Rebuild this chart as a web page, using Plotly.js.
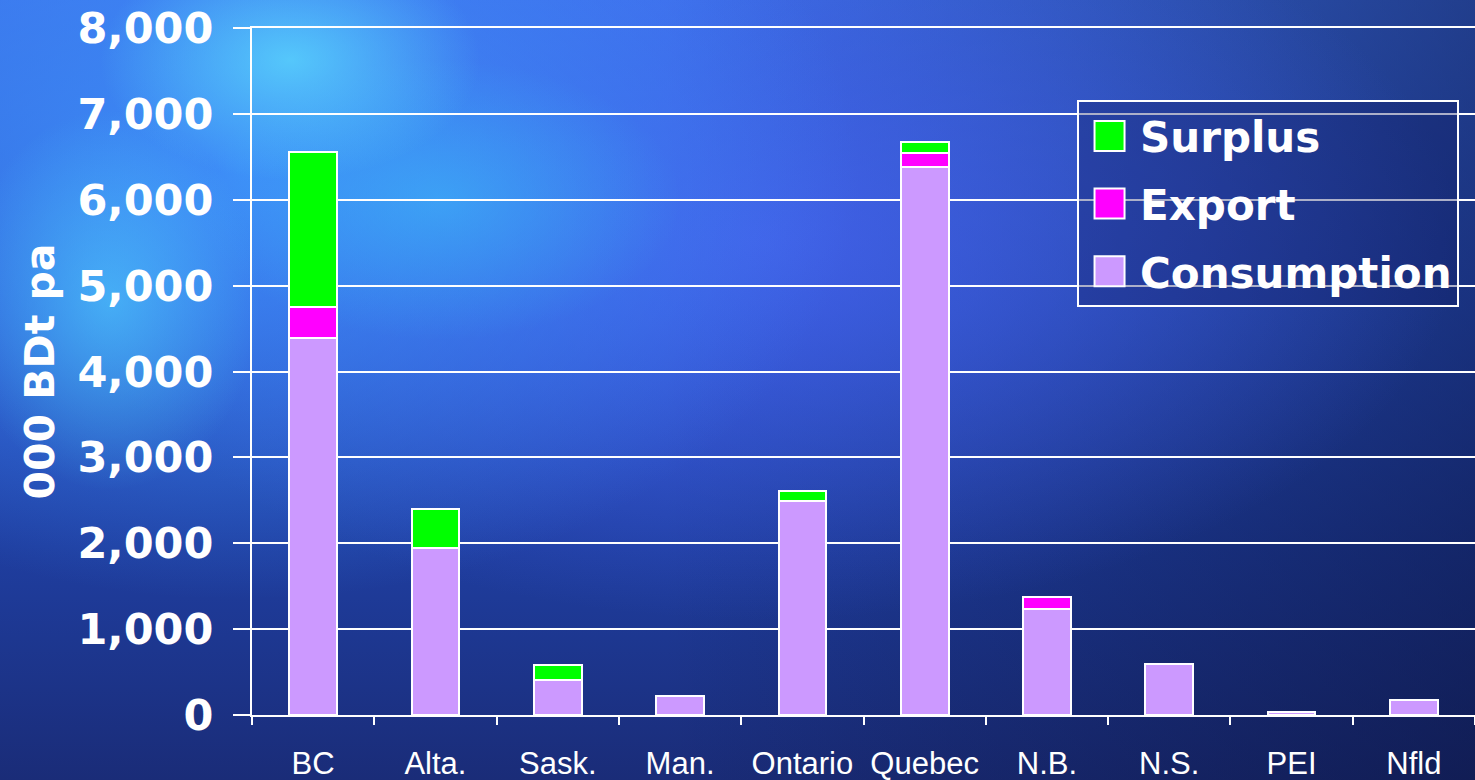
<!DOCTYPE html>
<html>
<head>
<meta charset="utf-8">
<script src="https://cdn.plot.ly/plotly-3.0.1.min.js"></script>
<style>
  html, body { margin: 0; padding: 0; }
  body {
    width: 1475px; height: 780px; overflow: hidden;
    background-color: #1c3383;
    background-image:
      radial-gradient(ellipse 190px 120px at 290px 60px, rgba(95,228,255,0.7), rgba(95,228,255,0) 100%),
      radial-gradient(ellipse 150px 190px at 110px 300px, rgba(80,210,255,0.6), rgba(80,210,255,0) 100%),
      radial-gradient(ellipse 240px 140px at 440px 200px, rgba(60,195,250,0.5), rgba(60,195,250,0) 100%),
      radial-gradient(ellipse 620px 430px at 240px 170px, rgba(62,145,250,0.9), rgba(62,145,250,0) 100%),
      radial-gradient(ellipse 700px 380px at 760px 240px, rgba(72,100,242,0.75), rgba(72,100,242,0) 100%),
      linear-gradient(to right, rgba(8,14,50,0) 45%, rgba(8,14,50,0.5) 100%),
      linear-gradient(to bottom, #3b6ee8 0%, #2a55cc 40%, #1f3ea0 70%, #1a2c78 100%);
  }
  #chart { width: 1475px; height: 780px; }
</style>
</head>
<body>
<div id="chart"></div>
<script>
// Provinces along the x axis
const categories = ['BC', 'Alta.', 'Sask.', 'Man.', 'Ontario', 'Quebec', 'N.B.', 'N.S.', 'PEI', 'Nfld'];

// Stacked components, thousand bone-dry tonnes per year
const consumption = [4390, 1940, 410, 220, 2490, 6380, 1230, 590, 30, 170];
const exportVals  = [360, null, null, null, null, 170, 140, null, null, null];
const surplus     = [1810, 460, 170, null, 120, 120, null, null, null, null];

// Y axis ticks
const yTickVals = [0, 1000, 2000, 3000, 4000, 5000, 6000, 7000, 8000];
const yTickText = ['0', '1,000', '2,000', '3,000', '4,000', '5,000', '6,000', '7,000', '8,000'];

const outline = { color: '#ffffff', width: 2 };

// Stacked bottom to top; legend lists them top to bottom
const traces = [
  { type: 'bar', name: 'Consumption', x: categories, y: consumption,
    marker: { color: '#cc99ff', line: outline }, legendgroup: 'c', legendrank: 3 },
  { type: 'bar', name: 'Export', x: categories, y: exportVals,
    marker: { color: '#ff00ff', line: outline }, legendgroup: 'e', legendrank: 2 },
  { type: 'bar', name: 'Surplus', x: categories, y: surplus,
    marker: { color: '#00ff00', line: outline }, legendgroup: 's', legendrank: 1 }
];

const layout = {
  width: 1475, height: 780,
  margin: { l: 252, r: 0, t: 28, b: 65, pad: 0 },
  paper_bgcolor: 'rgba(0,0,0,0)',
  plot_bgcolor: 'rgba(0,0,0,0)',
  barmode: 'stack',
  bargap: 0.61,
  hovermode: false,
  showlegend: true,
  legend: {
    x: 0.6746, y: 0.895, xanchor: 'left', yanchor: 'top',
    bgcolor: 'rgba(18,30,100,0.35)',
    bordercolor: '#ffffff', borderwidth: 2,
    font: { family: 'DejaVu Sans', size: 42, color: '#ffffff', weight: 'bold' },
    traceorder: 'grouped',
    tracegroupgap: 10,
    itemwidth: 51
  },
  xaxis: {
    type: 'category',
    showgrid: false, zeroline: false,
    showline: true, mirror: true, linecolor: '#ffffff', linewidth: 2,
    ticks: 'outside', tickson: 'boundaries', ticklen: 8, tickwidth: 2, tickcolor: '#ffffff',
    ticklabelstandoff: 20,
    tickfont: { family: 'Liberation Sans', size: 31, color: '#ffffff' },
    fixedrange: true
  },
  yaxis: {
    range: [0, 8000],
    tickvals: yTickVals, ticktext: yTickText,
    showgrid: true, gridcolor: '#ffffff', gridwidth: 2,
    zeroline: false,
    showline: true, linecolor: '#ffffff', linewidth: 2,
    ticks: 'outside', ticklen: 17, tickwidth: 2, tickcolor: '#ffffff',
    ticklabelstandoff: 11,
    tickfont: { family: 'DejaVu Sans', size: 43, color: '#ffffff', weight: 'bold' },
    title: {
      text: '000 BDt pa', standoff: 10,
      font: { family: 'DejaVu Sans', size: 41, color: '#ffffff', weight: 'bold' }
    },
    fixedrange: true
  }
};

Plotly.newPlot('chart', traces, layout, { displayModeBar: false, staticPlot: true }).then(function (gd) {
  // Enlarge the legend swatches to 30px squares
  gd.querySelectorAll('.legend .legendpoints path').forEach(function (p) {
    p.setAttribute('d', 'M15,15H-15V-15H15Z');
    p.style.strokeWidth = '2px';
    p.style.stroke = '#ffffff';
  });
});
</script>
</body>
</html>
